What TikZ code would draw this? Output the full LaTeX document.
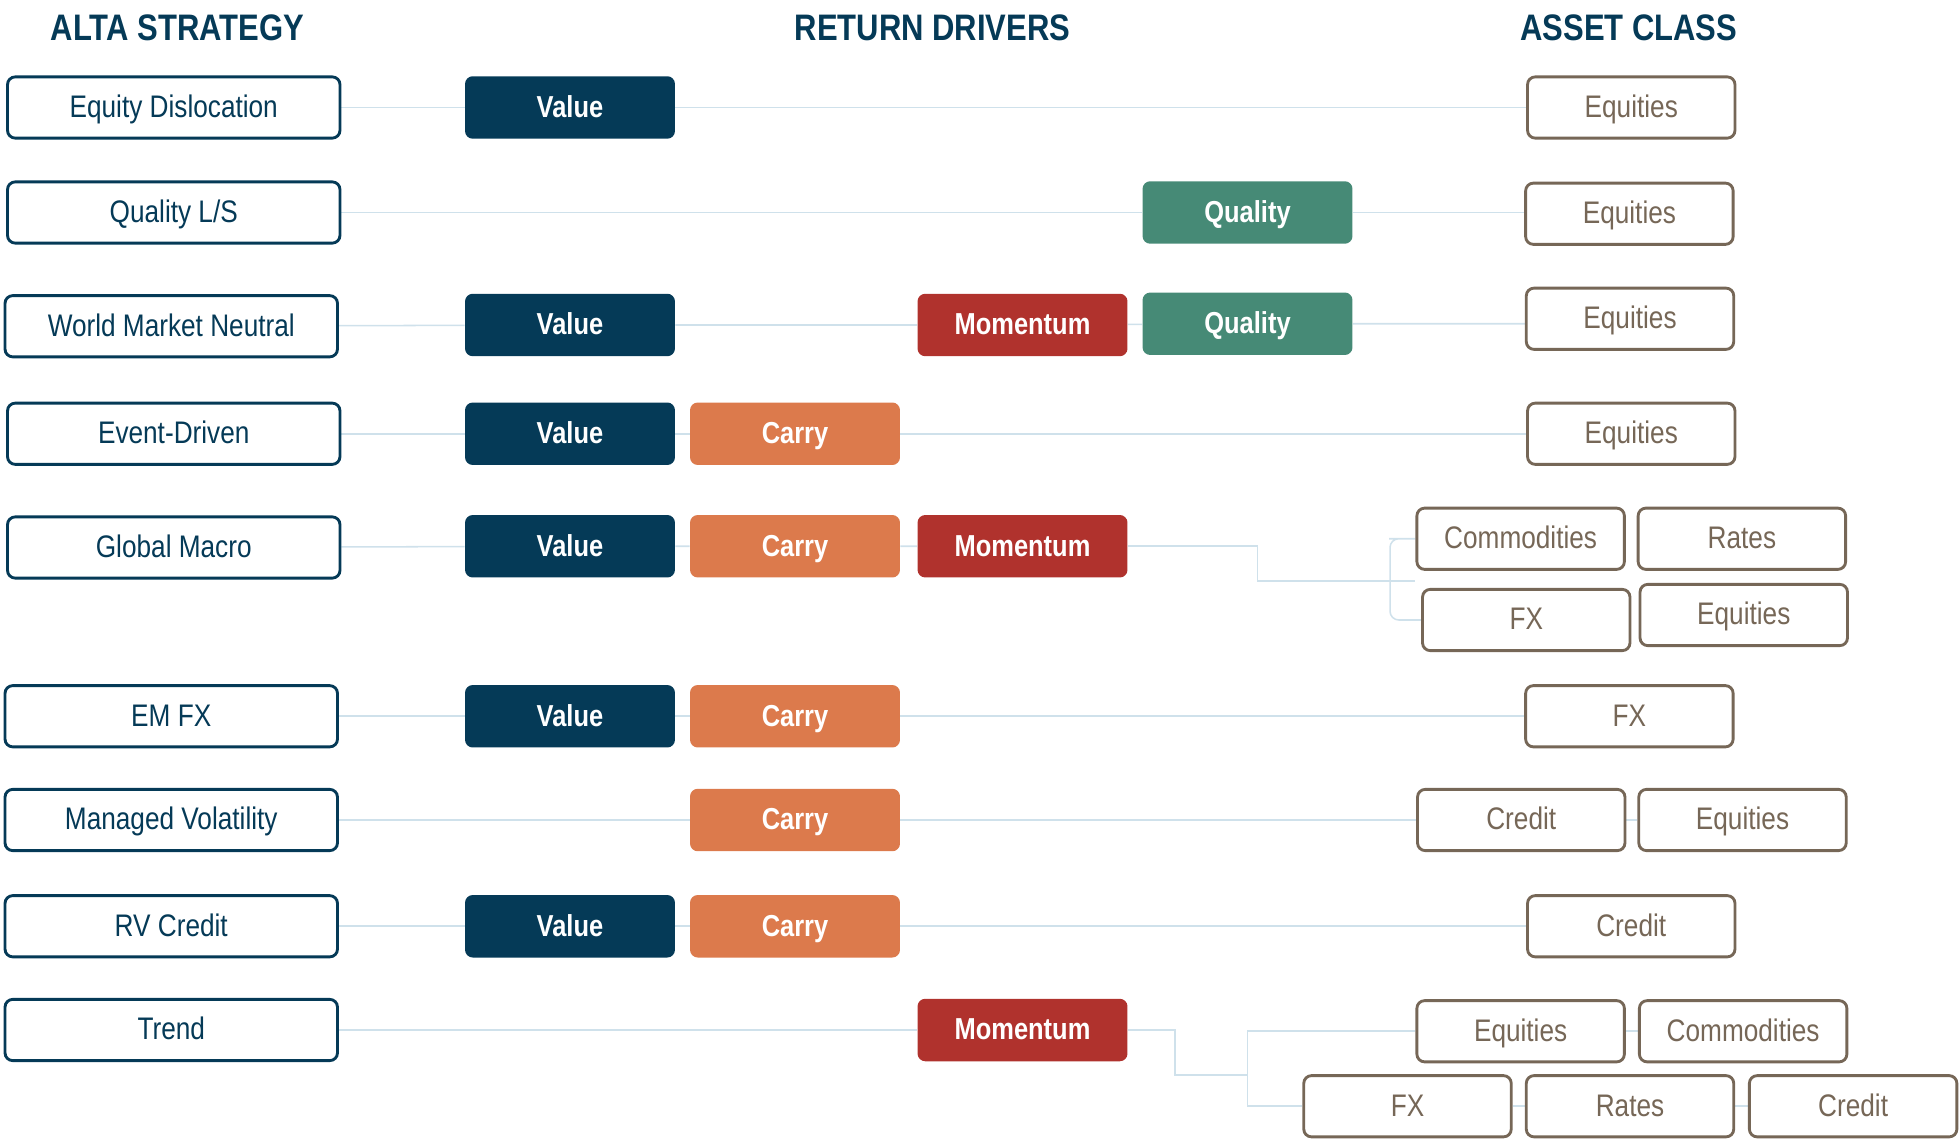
\documentclass[tikz,border=0pt]{standalone}
\usepackage{fontspec}
\setmainfont{Liberation Sans}[FakeStretch=0.84]
\usepackage{tikz}
\usetikzlibrary{positioning,backgrounds}
\definecolor{navy}{HTML}{053A57}
\definecolor{carry}{HTML}{DC7A4C}
\definecolor{momred}{HTML}{B0322D}
\definecolor{qgreen}{HTML}{468A76}
\definecolor{taupe}{HTML}{766757}
\definecolor{linkblue}{HTML}{CFE1EB}
\tikzset{
  % outlined boxes on the left and the right, filled boxes in the middle
  strat/.style = {rectangle, rounded corners=3.5pt, draw=navy, line width=1.3pt, fill=white,
                  text=navy, minimum width=5.32cm, minimum height=0.98cm, text height=2.2ex, text depth=0.5ex,
                  font=\fontsize{14.2}{16}\selectfont},
  drv/.style   = {rectangle, rounded corners=3.5pt, fill=#1, text=white, minimum width=3.36cm,
                  minimum height=1.0cm, text height=2.2ex, text depth=0.5ex,
                  font=\bfseries\fontsize{13.8}{15}\selectfont},
  asset/.style = {rectangle, rounded corners=3.5pt, draw=taupe, line width=1.3pt, fill=white,
                  text=taupe, minimum width=3.32cm, minimum height=0.98cm, text height=2.2ex, text depth=0.5ex,
                  font=\fontsize{14.2}{16}\selectfont},
  hdr/.style   = {text=navy, font=\bfseries\fontsize{16.8}{20}\selectfont},
  link/.style  = {linkblue, line width=0.7pt},
}

\begin{document}
\begin{tikzpicture}[x=0.02cm,y=-0.02cm]
\useasboundingbox (0,0) rectangle (1568,915);
% column heads
\node[hdr] (hstrat) at (142,22) {ALTA STRATEGY};
\node[hdr] (hdrv)   at (746,22) {RETURN DRIVERS};
\node[hdr] (hasset) at (1303,22) {ASSET CLASS};
% strategies
\node[strat] (s1) at (139,86)  {Equity Dislocation};
\node[strat] (s2) at (139,170) {Quality L/S};
\node[strat] (s3) at (137,261) {World Market Neutral};
\node[strat] (s4) at (139,347) {Event-Driven};
\node[strat] (s5) at (139,438) {Global Macro};
\node[strat] (s6) at (137,573) {EM FX};
\node[strat] (s7) at (137,656) {Managed Volatility};
\node[strat] (s8) at (137,741) {RV Credit};
\node[strat] (s9) at (137,824) {Trend};
% return drivers
\node[drv=navy]   (v1) at (456,86)  {Value};
\node[drv=qgreen] (q2) at (998,170) {Quality};
\node[drv=navy]   (v3) at (456,260) {Value};
\node[drv=momred] (m3) at (818,260) {Momentum};
\node[drv=qgreen] (q3) at (998,259) {Quality};
\node[drv=navy]   (v4) at (456,347) {Value};
\node[drv=carry]  (c4) at (636,347) {Carry};
\node[drv=navy]   (v5) at (456,437) {Value};
\node[drv=carry]  (c5) at (636,437) {Carry};
\node[drv=momred] (m5) at (818,437) {Momentum};
\node[drv=navy]   (v6) at (456,573) {Value};
\node[drv=carry]  (c6) at (636,573) {Carry};
\node[drv=carry]  (c7) at (636,656) {Carry};
\node[drv=navy]   (v8) at (456,741) {Value};
\node[drv=carry]  (c8) at (636,741) {Carry};
\node[drv=momred] (m9) at (818,824) {Momentum};
% asset classes
\node[asset] (a1)  at (1305,86)   {Equities};
\node[asset] (a2)  at (1303.5,171) {Equities};
\node[asset] (a3)  at (1304,255)  {Equities};
\node[asset] (a4)  at (1305,347)  {Equities};
\node[asset] (a5a) at (1216.5,431) {Commodities};
\node[asset] (a5b) at (1393.5,431) {Rates};
\node[asset] (a5c) at (1221,496)  {FX};
\node[asset] (a5d) at (1395,492)  {Equities};
\node[asset] (a6)  at (1303.5,573) {FX};
\node[asset] (a7a) at (1217,656)  {Credit};
\node[asset] (a7b) at (1394,656)  {Equities};
\node[asset] (a8)  at (1305,741)  {Credit};
\node[asset] (a9a) at (1216.5,825) {Equities};
\node[asset] (a9b) at (1394.5,825) {Commodities};
\node[asset] (a9c) at (1126,885)  {FX};
\node[asset] (a9d) at (1304,885)  {Rates};
\node[asset] (a9e) at (1482.5,885) {Credit};
% elbows of the split links
\coordinate (k5) at (1006,437);
\coordinate (j5) at (1112,465);
\coordinate (k9) at (940,824);
\coordinate (j9) at (998,860);
% links, kept behind the boxes
\begin{scope}[on background layer]
  \draw[link] (s1) -- (v1) (v1) -- (a1);
  \draw[link] (s2) -- (q2) (q2) -- (a2.west |- q2.east);
  \draw[link] (s3) -- (v3) (v3) -- (m3) (m3) -- (q3) (q3.east) -- (q3.east -| a3.west);
  \draw[link] (s4) -- (v4) (v4) -- (c4) (c4) -- (a4);
  \draw[link] (s5) -- (v5) (v5) -- (c5) (c5) -- (m5);
  \draw[link] (m5.east) -- (k5) |- (j5);
  \draw[link, rounded corners=4pt] (a5a.west) -- ++(-14,0) -- (j5 |- a5a.west) -- (j5 |- a5c.west) -- ++(14,0) -- (a5c.west);
  \draw[link] (j5) -- (j5 -| a5a.west);
  \draw[link] (s6) -- (v6) (v6) -- (c6) (c6) -- (a6);
  \draw[link] (s7) -- (c7) (c7) -- (a7a) (a7a) -- (a7b);
  \draw[link] (s8) -- (v8) (v8) -- (c8) (c8) -- (a8);
  \draw[link] (s9) -- (m9);
  \draw[link] (m9.east) -- (k9) |- (j9);
  \draw[link] (a9a.west) -- (a9a.west -| j9) -- (j9 |- a9c.west) -- (a9c.west);
  \draw[link] (a9a) -- (a9b) (a9c) -- (a9d) (a9d) -- (a9e);
\end{scope}
\end{tikzpicture}
\end{document}
